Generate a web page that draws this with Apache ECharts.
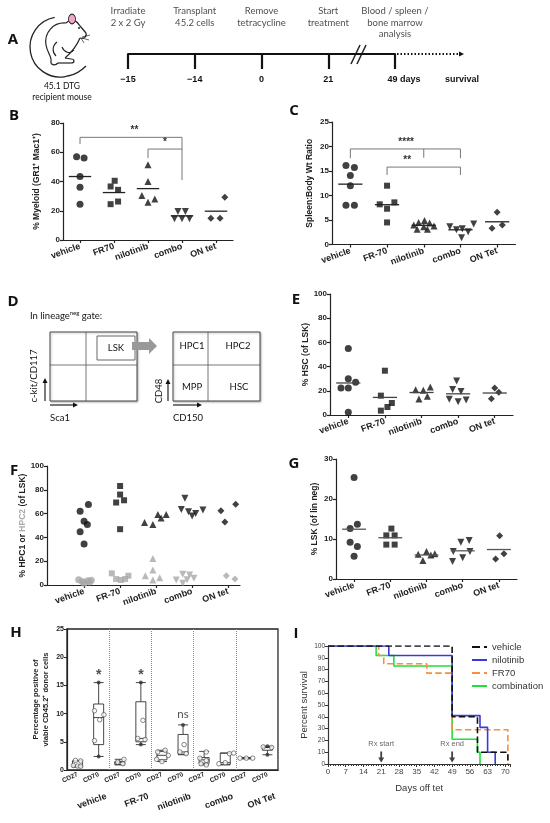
<!DOCTYPE html>
<html>
<head>
<meta charset="utf-8">
<script src="https://cdn.jsdelivr.net/npm/echarts@6/dist/echarts.min.js"></script>
<style>
  html, body { margin: 0; padding: 0; background: #fff; }
  #main { width: 550px; height: 823px; }
</style>
</head>
<body>
<div id="main"></div>
<script>
// ---- data ----
var tlTicks = ['−15', '−14', '0', '21', '49 days'];
var tlEvents = ['Irradiate\n2 x 2 Gy', 'Transplant\n45.2 cells', 'Remove\ntetracycline',
  'Start\ntreatment', 'Blood / spleen /\nbone marrow\nanalysis'];

var catsB = ['vehicle', 'FR70', 'nilotinib', 'combo', 'ON tet'];
var catsC = ['vehicle', 'FR-70', 'nilotinib', 'combo', 'ON Tet'];
var catsE = ['vehicle', 'FR-70', 'nilotinib', 'combo', 'ON tet'];
var shapes = ['circle', 'rect', 'triangle', 'triangle', 'diamond'];
var turns = [0, 0, 0, 180, 0];

var myeloid = [[57, 56, 43.4, 36.1, 24.5], [40.5, 36.6, 34.3, 26.3, 24.5],
  [51.4, 40, 30.4, 25.8, 28.1], [19.5, 19.5, 14.5, 14.5, 14.5], [29.3, 14.9, 14.9]];
var myeloidJit = [[-0.1, 0.12, 0, 0, 0], [0.02, -0.1, 0.12, 0.12, -0.1],
  [0, 0, -0.18, 0, 0.2], [-0.12, 0.1, -0.22, 0, 0.22], [0.26, -0.15, 0.12]];

var spleen = [[16.1, 15.7, 14.1, 12, 8, 8], [12, 8.2, 8.6, 7.3, 4.5],
  [4.9, 4.5, 4.4, 4.0, 3.8, 3.6, 3.1, 3.1], [3.6, 3.0, 3.2, 2.6, 4.2, 1.4], [6.6, 3.3, 4.0]];
var spleenJit = [[-0.12, 0.11, 0, 0, -0.12, 0.11], [0, -0.2, 0.2, 0, 0],
  [0.02, -0.14, 0.16, -0.27, 0.28, 0, -0.18, 0.1], [-0.29, -0.11, 0.05, 0.21, 0.36, 0.03], [0, -0.14, 0.14]];

var hsc = [[55, 30, 27, 22.3, 22.3, 2.2], [36.6, 16, 9.9, 6.6, 3.6],
  [20.9, 20.4, 23.1, 13.2, 15.4], [28, 21, 19.5, 13, 11, 12.5], [22.3, 18.7, 13.5]];
var hscJit = [[0, 0, 0.2, -0.2, 0, 0], [0, -0.11, 0.19, 0.07, -0.11],
  [-0.16, 0.05, 0.24, -0.07, 0.16], [-0.04, -0.15, 0.08, -0.24, 0, 0.22], [0, 0.11, -0.09]];

var hpc1 = [[62, 67.6, 53.6, 50.8, 44.7, 34.4], [83.2, 76, 69.3, 71.2, 46.9],
  [59.2, 59.2, 52.5, 50.8, 56.4], [73, 63.5, 61.5, 58, 60, 63], [62.3, 67.9, 53]];
var hpc1Jit = [[-0.11, 0.12, 0, 0.09, -0.11, 0], [0, 0, -0.11, 0.11, 0],
  [0.05, 0.28, -0.32, -0.09, 0.14], [-0.2, -0.3, -0.1, 0, 0.1, 0.3], [-0.2, 0.21, -0.09]];
var hpc2 = [[4.5, 3.5, 3, 2.5, 4, 1.5], [9.8, 5, 4.2, 5, 7.8],
  [22.3, 12.6, 7.8, 4.2, 6.1], [9, 8.4, 4.2, 4.5, 1.4, 5.6], [7.8, 5, 7.5]];
var hpc2Jit = [[-0.15, 0.1, -0.05, 0.15, 0.2, 0], [-0.23, -0.11, 0.02, 0.14, 0.23],
  [-0.09, -0.09, -0.3, -0.09, 0.1], [-0.26, -0.07, -0.44, -0.14, -0.26, 0.05], [-0.05, 0.19, 0.37]];

var lsk = [[25.4, 13.7, 12.6, 9.2, 8.1, 5.7], [12.6, 10.9, 10.9, 8.6, 8.6],
  [6.2, 6.9, 6.3, 4.6, 6.0], [9.2, 9.6, 6.9, 6.9, 4.4, 5.3], [10.8, 6.3, 5.0]];
var lskJit = [[0, 0.09, -0.11, -0.11, 0.09, 0], [0.03, -0.11, 0.12, -0.11, 0.12],
  [-0.23, 0, 0.23, -0.1, 0.12], [-0.05, 0.18, -0.26, 0.2, -0.28, 0], [0.02, 0.14, -0.09]];

var bracketsB = [
  { pts: [[0, 65.6], [0, 70.2], [3, 70.2], [3, 41]], text: '**', at: [1.6, 70.2] },
  { pts: [[2, 56], [2, 62.2], [3, 62.2]], text: '*', at: [2.5, 62.2] }
];
var bracketsC = [
  { pts: [[0, 17.6], [0, 19.5], [3, 19.5], [3, 17.6]], text: '****', at: [1.52, 19.5] },
  { pts: [[2, 19.5], [2, 17.7]], text: '', at: [2, 19.5] },
  { pts: [[1, 14.2], [1, 15.8], [3, 15.8], [3, 14.2]], text: '**', at: [1.55, 15.8] }
];

var hCats = ['CD27', 'CD70', 'CD27', 'CD70', 'CD27', 'CD70', 'CD27', 'CD70', 'CD27', 'CD70'];
var hGroups = ['vehicle', 'FR-70', 'nilotinib', 'combo', 'ON Tet'];
var hBoxes = [[0.5, 0.6, 0.8, 1.6, 1.7], [2.4, 4.5, 9.3, 11.7, 15.5], [0.9, 1.0, 1.3, 1.5, 1.9],
  [4.5, 5.0, 5.6, 12.1, 15.5], [1.5, 1.8, 2.6, 3.3, 3.5], [2.7, 2.8, 3.2, 6.3, 8.0],
  [0.9, 1.2, 1.8, 2.2, 3.3], [0.9, 1.0, 1.3, 3.0, 3.0], [2.0, 2.0, 2.1, 2.2, 2.2], [2.7, 3.5, 4.0, 4.1, 4.2]];
var hPoints = [[1.7, 1.6, 0.8, 0.7, 0.65], [10.5, 9.8, 8.9, 5.2], [1.9, 1.4, 1.1],
  [8.8, 5.6, 5.4], [3.5, 3.2, 2.6, 1.9, 1.5], [4.5, 3.2, 2.9],
  [3.2, 2.1, 1.7, 1.1, 0.9], [3.0, 1.1, 1.3, 2.9], [2.1, 2.1, 2.1], [4.1, 4.0]];
var hPointsJit = [[-0.1, 0.15, -0.2, 0, 0.15], [-0.2, 0.25, 0.05, -0.2], [0.2, -0.1, 0.15],
  [0.1, -0.15, 0.2], [0.15, -0.2, 0.3, -0.25, 0], [0.05, -0.15, 0.15],
  [0.1, -0.2, 0.1, -0.15, 0.1], [0.4, -0.3, 0, 0.2], [-0.3, 0, 0.3], [-0.2, 0.2]];
var hWhiskerEnds = [[1, 15.5], [1, 2.4], [3, 15.5], [3, 4.5], [5, 8.0], [9, 4.2], [9, 2.7]];
var hStars = [[1, 17.4, '*'], [3, 17.4, '*'], [5, 9.9, 'ns']];

var survNames = ['vehicle', 'nilotinib', 'FR70', 'combination'];
var survVehicle = [[0, 100], [49, 40], [59, 10], [71, 0]];
var survNilotinib = [[0, 100], [24, 92], [49, 41], [60, 31], [63, 10], [66, 0]];
var survFR70 = [[0, 100], [20, 92], [22, 85], [39, 77], [49, 29], [71, 0]];
var survCombo = [[0, 100], [19, 92], [26, 83], [49, 21], [59, 10], [60, 0]];
var rxMarks = [[21, 'Rx start'], [49, 'Rx end']];

// ---- helpers ----
var chart = echarts.init(document.getElementById('main'));
var AX = '#222';
var FONT = 'Arial, "Liberation Sans", sans-serif';

function mean(a) { return a.reduce(function (s, v) { return s + v; }, 0) / a.length; }

function dotX(g, cats, min, max) {
  return {
    type: 'value', gridIndex: g, min: min, max: max,
    axisLine: { show: true, onZero: false, lineStyle: { color: AX, width: 1.2 } },
    axisTick: { show: true, customValues: [0, 1, 2, 3, 4], length: 3, lineStyle: { color: AX, width: 1.2 } },
    axisLabel: {
      customValues: [0, 1, 2, 3, 4], rotate: 20, margin: 6,
      formatter: function (v) { return cats[Math.round(v)]; },
      fontWeight: 'bold', fontSize: 9, color: AX, fontFamily: FONT
    },
    splitLine: { show: false }
  };
}

function dotY(g, max, step, name, gap, rich) {
  return {
    type: 'value', gridIndex: g, min: 0, max: max, interval: step,
    name: name, nameLocation: 'middle', nameGap: gap,
    nameTextStyle: { fontWeight: 'bold', fontSize: 8.5, color: AX, fontFamily: FONT, rich: rich },
    axisLine: { show: true, onZero: false, lineStyle: { color: AX, width: 1.2 } },
    axisTick: { show: true, length: 3, lineStyle: { color: AX, width: 1.2 } },
    axisLabel: { fontWeight: 'bold', fontSize: 8, color: AX, margin: 3, fontFamily: FONT },
    splitLine: { show: false }
  };
}

function dotSeries(ax, vals, jit, color, sizeScale) {
  var out = [];
  vals.forEach(function (grp, i) {
    out.push({
      type: 'scatter', xAxisIndex: ax, yAxisIndex: ax, symbol: shapes[i], symbolRotate: turns[i],
      symbolSize: (shapes[i] === 'rect' ? 6 : 7) * (sizeScale || 1),
      itemStyle: { color: color }, z: 3,
      data: grp.map(function (v, j) { return [i + jit[i][j], v]; })
    });
  });
  return out;
}

function meanSeries(ax, vals, color) {
  return {
    type: 'custom', xAxisIndex: ax, yAxisIndex: ax, z: 4,
    data: vals.map(function (grp, i) { return [i, mean(grp)]; }),
    renderItem: function (params, api) {
      var a = api.coord([api.value(0) - 0.33, api.value(1)]);
      var b = api.coord([api.value(0) + 0.33, api.value(1)]);
      return { type: 'line', shape: { x1: a[0], y1: a[1], x2: b[0], y2: b[1] },
        style: { stroke: color, lineWidth: 1.3 } };
    }
  };
}

function bracketSeries(ax, list) {
  return {
    type: 'custom', xAxisIndex: ax, yAxisIndex: ax, z: 2,
    data: list.map(function (b, i) { return [i]; }),
    renderItem: function (params, api) {
      var b = list[params.dataIndex];
      var pts = b.pts.map(function (p) { return api.coord(p); });
      var t = api.coord(b.at);
      return { type: 'group', children: [
        { type: 'polyline', shape: { points: pts }, style: { stroke: '#777', lineWidth: 1, fill: null } },
        { type: 'text', x: t[0], y: t[1] - 2, style: { text: b.text, fill: '#333',
          font: 'bold 10px ' + FONT, align: 'center', verticalAlign: 'bottom' } }
      ] };
    }
  };
}

function txt(x, y, s, font, extra) {
  var st = { text: s, font: font, fill: '#111', align: 'center', verticalAlign: 'middle' };
  for (var k in extra) st[k] = extra[k];
  return { type: 'text', x: x, y: y, style: st };
}
function ln(x1, y1, x2, y2, w, c, dash) {
  return { type: 'line', shape: { x1: x1, y1: y1, x2: x2, y2: y2 },
    style: { stroke: c || '#222', lineWidth: w || 1, lineDash: dash || null } };
}
function bz(x1, y1, ax, ay, bx, by, x2, y2, w) {
  return { type: 'bezierCurve', shape: { x1: x1, y1: y1, cpx1: ax, cpy1: ay, cpx2: bx, cpy2: by, x2: x2, y2: y2 },
    style: { stroke: '#222', lineWidth: w || 1.2, fill: null } };
}
function arrowHead(x, y, dir) {
  var p = dir === 'up' ? [[x - 2.5, y + 5], [x + 2.5, y + 5], [x, y]] : [[x - 5, y - 2.5], [x - 5, y + 2.5], [x, y]];
  return { type: 'polygon', shape: { points: p }, style: { fill: '#111' } };
}

var LET = 'bold 15px "Open Sans", sans-serif';
var CAL = '9.5px Lato, sans-serif';

var graphics = [
  txt(13, 40, 'A', LET), txt(14, 116, 'B', LET), txt(294, 111, 'C', LET), txt(13, 302, 'D', LET),
  txt(296, 300, 'E', LET), txt(14, 471, 'F', LET), txt(294, 464, 'G', LET), txt(16, 633, 'H', LET),
  txt(296, 634, 'I', LET),
  // mouse
  { type: 'arc', shape: { cx: 60, cy: 47, r: 30, startAngle: -1.75, endAngle: 1.3, clockwise: false },
    style: { stroke: '#222', lineWidth: 1.3, fill: null } },
  bz(68, 76, 74, 75, 80, 72, 86, 66, 1.3),
  bz(66, 23, 53, 22, 44, 33, 46, 45), bz(46, 45, 47, 52, 52, 57, 51, 61), bz(51, 61, 50, 65, 55, 66, 58, 63),
  ln(58, 63, 71, 63, 1.2), bz(71, 63, 75, 63, 75, 59, 71, 59), ln(71, 59, 65, 58, 1.2),
  bz(65, 58, 71, 53, 77, 45, 80, 38),
  bz(66, 23, 72, 17, 77, 21, 80, 26), ln(80, 26, 86, 33, 1.2), bz(86, 33, 87, 37, 84, 39, 80, 38),
  bz(57, 42, 52, 46, 52, 52, 56, 56, 1.1), bz(62, 47, 64, 52, 70, 55, 74, 50, 1.1),
  { type: 'circle', x: 72, y: 19, scaleY: 1.4, shape: { cx: 0, cy: 0, r: 3.5 }, style: { fill: '#f0a7c8', stroke: '#222', lineWidth: 0.8 } },
  { type: 'circle', shape: { cx: 79, cy: 28, r: 0.9 }, style: { fill: '#111' } },
  ln(82, 37, 90, 35, 0.7), ln(82, 38, 89, 40, 0.7), ln(81, 38, 84, 43, 0.7),
  txt(62, 86, '45.1 DTG', '8.5px Lato, sans-serif'), txt(62, 97, 'recipient mouse', '8.5px Lato, sans-serif'),
  // timeline extras
  ln(351, 64, 360, 45, 1.5), ln(357, 64, 366, 45, 1.5),
  ln(397, 54, 459, 54, 2, '#111', [1.5, 2]), arrowHead(464, 54, 'right'),
  txt(462, 80, 'survival', 'bold 9px ' + FONT),
  // D schematic
  { type: 'text', x: 30, y: 316, style: { rich: { a: { font: CAL, fill: '#111' }, s: { font: '6px Lato, sans-serif', fill: '#111', padding: [0, 0, 5, 0] } },
    text: '{a|In lineage}{s|neg}{a| gate:}', verticalAlign: 'middle' } },
  { type: 'rect', shape: { x: 50, y: 332, width: 87, height: 69 }, style: { fill: '#fff', stroke: '#444', lineWidth: 1, shadowColor: 'rgba(0,0,0,0.25)', shadowBlur: 2, shadowOffsetX: 1, shadowOffsetY: 1 } },
  ln(86, 332, 86, 401, 0.8, '#555'), ln(50, 365, 137, 365, 0.8, '#555'),
  { type: 'rect', shape: { x: 97, y: 336, width: 38, height: 24 }, style: { fill: '#fff', stroke: '#666', lineWidth: 1 } },
  txt(116, 348, 'LSK', CAL),
  { type: 'polygon', shape: { points: [[132, 342], [149, 342], [149, 338], [157, 346], [149, 354], [149, 350], [132, 350]] }, style: { fill: '#999' } },
  ln(45, 401, 45, 383, 1.2), arrowHead(45, 378, 'up'), ln(50, 405, 73, 405, 1.2), arrowHead(78, 405, 'right'),
  { type: 'text', x: 34, y: 376, rotation: Math.PI / 2, style: { text: 'c-kit/CD117', font: CAL, fill: '#111', align: 'center', verticalAlign: 'middle' } },
  txt(50, 418, 'Sca1', CAL, { align: 'left' }),
  { type: 'rect', shape: { x: 173, y: 332, width: 87, height: 69 }, style: { fill: '#fff', stroke: '#444', lineWidth: 1, shadowColor: 'rgba(0,0,0,0.25)', shadowBlur: 2, shadowOffsetX: 1, shadowOffsetY: 1 } },
  ln(208, 332, 208, 401, 0.8, '#555'), ln(173, 365, 260, 365, 0.8, '#555'),
  txt(192, 346, 'HPC1', CAL), txt(238, 346, 'HPC2', CAL), txt(192, 387, 'MPP', CAL), txt(239, 387, 'HSC', CAL),
  ln(168, 401, 168, 384, 1.2), arrowHead(168, 379, 'up'), ln(173, 405, 197, 405, 1.2), arrowHead(202, 405, 'right'),
  { type: 'text', x: 159, y: 391, rotation: Math.PI / 2, style: { text: 'CD48', font: CAL, fill: '#111', align: 'center', verticalAlign: 'middle' } },
  txt(173, 418, 'CD150', CAL, { align: 'left' })
];

// ---- option ----
var series = [];

// A timeline
series.push({
  type: 'scatter', xAxisIndex: 0, yAxisIndex: 0, symbolSize: 1, itemStyle: { color: 'transparent' },
  data: tlEvents.map(function (e, i) { return [i, 1]; }),
  label: { show: true, position: 'bottom', distance: 0, formatter: function (p) { return tlEvents[p.dataIndex]; },
    fontFamily: 'Lato', fontSize: 9.5, lineHeight: 11.5, color: '#222' }
});

// B, C, E, F, G
series = series.concat(dotSeries(1, myeloid, myeloidJit, '#111'));
series.push(meanSeries(1, myeloid, '#222'), bracketSeries(1, bracketsB));
series = series.concat(dotSeries(2, spleen, spleenJit, '#111'));
series.push(meanSeries(2, spleen, '#222'), bracketSeries(2, bracketsC));
series = series.concat(dotSeries(3, hsc, hscJit, '#111'));
series.push(meanSeries(3, hsc, '#444'));
series = series.concat(dotSeries(4, hpc1, hpc1Jit, '#111'));
series = series.concat(dotSeries(4, hpc2, hpc2Jit, '#a8a8a8'));
series = series.concat(dotSeries(5, lsk, lskJit, '#111'));
series.push(meanSeries(5, lsk, '#555'));

// H
series.push({
  type: 'boxplot', xAxisIndex: 6, yAxisIndex: 6, data: hBoxes, boxWidth: [10, 10],
  itemStyle: { color: '#fff', borderColor: '#333', borderWidth: 0.9 }
});
var hp = [];
hPoints.forEach(function (grp, i) { grp.forEach(function (v, j) { hp.push([i + hPointsJit[i][j], v]); }); });
series.push({
  type: 'scatter', xAxisIndex: 8, yAxisIndex: 6, data: hp, symbolSize: 4.5, z: 5,
  itemStyle: { color: '#fff', borderColor: '#444', borderWidth: 0.8 }
});
series.push({
  type: 'scatter', xAxisIndex: 8, yAxisIndex: 6, data: hWhiskerEnds, symbolSize: 4, z: 5,
  itemStyle: { color: '#333' }
});
series.push({
  type: 'scatter', xAxisIndex: 8, yAxisIndex: 6, symbolSize: 1, itemStyle: { color: 'transparent' },
  data: hStars.map(function (s) { return [s[0], s[1]]; }),
  label: { show: true, position: 'inside',
    formatter: function (p) { var s = hStars[p.dataIndex][2]; return s === '*' ? '{st|*}' : '{ns|' + s + '}'; },
    rich: { st: { fontSize: 14, fontWeight: 'bold', color: '#222', fontFamily: FONT, padding: [6, 0, 0, 0] },
      ns: { fontSize: 11.5, color: '#222', fontFamily: 'Lato' } } }
});

// I
var survStyle = [
  { d: survVehicle, c: '#111', t: 'dashed' },
  { d: survNilotinib, c: '#3a3ad6', t: 'solid' },
  { d: survFR70, c: '#f5913e', t: 'dashed' },
  { d: survCombo, c: '#1fe03a', t: 'solid' }
];
[3, 2, 1, 0].forEach(function (k) {
  series.push({
    type: 'line', name: survNames[k], xAxisIndex: 9, yAxisIndex: 7, step: 'end', showSymbol: false,
    symbol: 'none', data: survStyle[k].d, z: 3 + (3 - k),
    lineStyle: { color: survStyle[k].c, width: 1.6, type: survStyle[k].t },
    itemStyle: { color: survStyle[k].c }
  });
});
series.push({
  type: 'scatter', xAxisIndex: 9, yAxisIndex: 7, symbol: 'path://M3.5,0 L6.5,0 L6.5,10 L10,10 L5,18 L0,10 L3.5,10 Z',
  symbolSize: [6, 11], itemStyle: { color: '#111' },
  data: rxMarks.map(function (r) { return [r[0], 6]; }),
  label: { show: true, position: 'top', distance: 3, formatter: function (p) { return rxMarks[p.dataIndex][1]; },
    fontSize: 7.5, color: '#444', fontFamily: FONT }
});

var option = {
  animation: false,
  textStyle: { fontFamily: FONT },
  grid: [
    { left: 128, top: 5, width: 267, height: 49 },
    { left: 63, top: 123, width: 170, height: 117 },
    { left: 332, top: 122, width: 183.5, height: 122.5 },
    { left: 330, top: 294, width: 183, height: 121 },
    { left: 47, top: 466, width: 193, height: 119 },
    { left: 336, top: 459, width: 181, height: 120 },
    { left: 67, top: 629, width: 211, height: 141, show: true, borderColor: '#222', borderWidth: 1.3 },
    { left: 328, top: 646, width: 182.4, height: 118 }
  ],
  xAxis: [
    { type: 'category', gridIndex: 0, data: tlTicks, boundaryGap: false,
      axisLine: { lineStyle: { color: '#111', width: 2 } },
      axisTick: { length: 15, lineStyle: { color: '#111', width: 2.2 } },
      axisLabel: { margin: 21, fontWeight: 'bold', fontSize: 9, color: '#111', interval: 0,
        formatter: function (v, i) { return i === 4 ? '{d|' + v + '}' : v; },
        rich: { d: { fontWeight: 'bold', fontSize: 9, color: '#111', padding: [0, 0, 0, 18] } } } },
    dotX(1, catsB, -0.5, 4.5),
    dotX(2, catsC, -0.5, 4.5),
    dotX(3, catsE, -0.5, 4.5),
    dotX(4, catsE, -1.03, 4.33),
    dotX(5, catsE, -0.5, 4.5),
    { type: 'category', gridIndex: 6, data: hCats,
      axisLine: { lineStyle: { color: AX, width: 1.2 } },
      axisTick: { alignWithLabel: true, length: 3, lineStyle: { color: AX } },
      axisLabel: { interval: 0, rotate: 25, fontSize: 6.5, fontWeight: 'bold', color: AX, margin: 4 },
      splitLine: { show: true, interval: function (i) { return i > 0 && i % 2 === 0; },
        lineStyle: { type: 'dotted', color: '#888', width: 1 } } },
    { type: 'value', gridIndex: 6, min: -0.93, max: 4.07, position: 'bottom', offset: 18,
      axisLine: { show: false }, axisTick: { show: false }, splitLine: { show: false },
      axisLabel: { customValues: [0, 1, 2, 3, 4], rotate: 20, fontSize: 9, fontWeight: 'bold', color: AX,
        formatter: function (v) { return hGroups[Math.round(v)]; } } },
    { type: 'value', gridIndex: 6, min: -0.5, max: 9.5, show: false },
    { type: 'value', gridIndex: 7, min: 0, max: 72, interval: 7,
      name: 'Days off tet', nameLocation: 'middle', nameGap: 19,
      nameTextStyle: { fontSize: 9.5, color: '#333' },
      axisLine: { onZero: false, lineStyle: { color: '#333', width: 1.2 } },
      axisTick: { length: 3, lineStyle: { color: '#333' } },
      minorTick: { show: true, splitNumber: 7, length: 2, lineStyle: { color: '#333' } },
      axisLabel: { fontSize: 8, color: '#444', margin: 4, showMaxLabel: false },
      splitLine: { show: false } }
  ],
  yAxis: [
    { type: 'value', gridIndex: 0, min: 0, max: 1, show: false },
    dotY(1, 80, 20, '% Myeloid (GR1⁺ Mac1⁺)', 22),
    dotY(2, 25, 5, 'Spleen:Body Wt Ratio', 18),
    dotY(3, 100, 20, '% HSC (of LSK)', 18),
    dotY(4, 100, 20, '{b|% HPC1 or }{g|HPC2}{b| (of LSK)}', 20,
      { b: { fontWeight: 'bold', fontSize: 8.5, color: AX }, g: { fontWeight: 'bold', fontSize: 8.5, color: '#aaa' } }),
    dotY(5, 30, 10, '% LSK (of lin neg)', 17),
    { type: 'value', gridIndex: 6, min: 0, max: 25, interval: 5,
      name: 'Percentage positive of\nviable CD45.2⁺ donor cells', nameLocation: 'middle', nameGap: 16,
      nameTextStyle: { fontWeight: 'bold', fontSize: 7.5, lineHeight: 10, color: AX },
      axisLine: { show: true, onZero: false, lineStyle: { color: AX, width: 1.2 } },
      axisTick: { show: true, length: 3, lineStyle: { color: AX } },
      axisLabel: { fontWeight: 'bold', fontSize: 7, color: AX, margin: 3 },
      splitLine: { show: false } },
    { type: 'value', gridIndex: 7, min: 0, max: 100, interval: 10,
      name: 'Percent survival', nameLocation: 'middle', nameGap: 19,
      nameTextStyle: { fontSize: 9.5, color: '#333' },
      axisLine: { show: true, onZero: false, lineStyle: { color: '#333', width: 1.2 } },
      axisTick: { show: true, length: 3, lineStyle: { color: '#333' } },
      axisLabel: { fontSize: 6.5, color: '#444', margin: 3 },
      splitLine: { show: false } }
  ],
  legend: {
    orient: 'vertical', left: 466, top: 637, itemWidth: 15, itemHeight: 8, itemGap: 3,
    itemStyle: { opacity: 0 },
    data: survNames, textStyle: { fontSize: 9.5, color: '#333' }
  },
  graphic: { elements: graphics },
  series: series
};

option && chart.setOption(option);
</script>
</body>
</html>
